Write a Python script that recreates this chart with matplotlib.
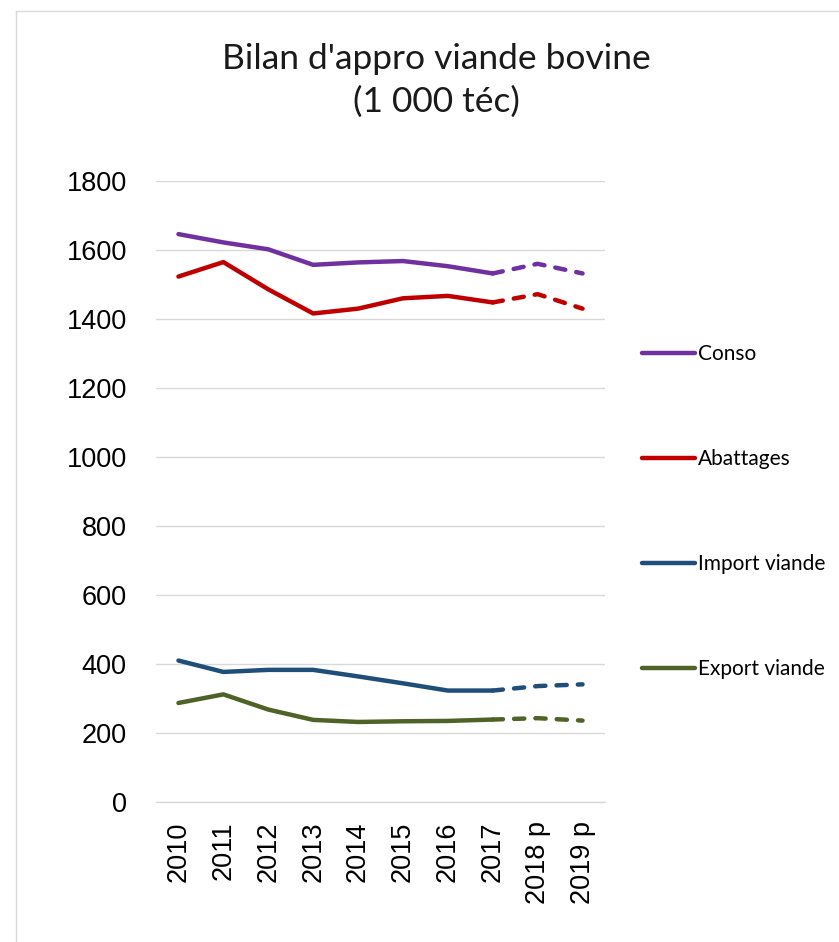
import matplotlib
matplotlib.use("Agg")
import matplotlib.pyplot as plt
from matplotlib.lines import Line2D

years = ["2010", "2011", "2012", "2013", "2014", "2015", "2016", "2017", "2018 p", "2019 p"]
conso = [1646, 1622, 1602, 1557, 1564, 1568, 1553, 1532, 1560, 1532]
abattages = [1523, 1565, 1486, 1416, 1430, 1460, 1467, 1448, 1472, 1430]
import_viande = [410, 377, 383, 383, 364, 344, 323, 323, 336, 341]
export_viande = [287, 312, 268, 238, 232, 234, 235, 239, 243, 236]
series_names = ["Conso", "Abattages", "Import viande", "Export viande"]
colors = ["#7030A0", "#C00000", "#1F4E79", "#4F6228"]
yticks = [0, 200, 400, 600, 800, 1000, 1200, 1400, 1600, 1800]

fig = plt.figure(figsize=(8.39, 9.42), dpi=100)
ax = fig.add_axes([156/839, 1-802/942, 449/839, 621/942])

x = list(range(len(years)))
n_solid = 8  # 2010..2017 solid, 2017..2019 dashed
handles = []
for name, vals, c in zip(series_names, [conso, abattages, import_viande, export_viande], colors):
    ax.plot(x[:n_solid], vals[:n_solid], color=c, lw=3.2, solid_capstyle="round",
            solid_joinstyle="round")
    ax.plot(x[n_solid-1:], vals[n_solid-1:], color=c, lw=3.2, linestyle=(0, (2.3, 2.5)),
            dash_capstyle="round")
    handles.append(Line2D([0], [0], color=c, lw=3.2, solid_capstyle="round"))

ax.set_xlim(-0.5, len(years)-0.5)
ax.set_ylim(0, 1800)
ax.set_yticks(yticks)
ax.set_yticklabels([str(v) for v in yticks], fontsize=19.5, family="Liberation Sans")
ax.set_xticks(x)
ax.set_xticklabels(years, rotation=90, fontsize=19.5, family="Liberation Sans", va="top")
ax.tick_params(axis="both", length=0)
ax.tick_params(axis="y", pad=21)
ax.tick_params(axis="x", pad=14)
ax.grid(axis="y", color="#D9D9D9", lw=1)
ax.set_axisbelow(True)
for s in ["top", "right", "left"]:
    ax.spines[s].set_visible(False)
ax.spines["bottom"].set_color("#D9D9D9")
ax.spines["bottom"].set_linewidth(1)

fig.text(436/839, 1-59/942, "Bilan d'appro viande bovine", ha="center", va="center",
         fontsize=25.5, family="Lato", color="#1a1a1a")
fig.text(436/839, 1-102/942, "(1 000 téc)", ha="center", va="center",
         fontsize=25.5, family="Lato", color="#1a1a1a")

leg = fig.legend(handles, series_names, loc="upper left", bbox_to_anchor=(642/839, 1-344/942),
                 frameon=False, prop={"family": "Lato", "size": 15}, handlelength=2.55,
                 handletextpad=0.15, labelspacing=4.08, borderaxespad=0, borderpad=0)

# chart frame (top and left edges visible)
fig.add_artist(Line2D([16/839, 16/839], [0, 1-11/942], transform=fig.transFigure, color="#D9D9D9", lw=1))
fig.add_artist(Line2D([16/839, 1], [1-11/942, 1-11/942], transform=fig.transFigure, color="#D9D9D9", lw=1))

fig.savefig("out.png", dpi=100)
